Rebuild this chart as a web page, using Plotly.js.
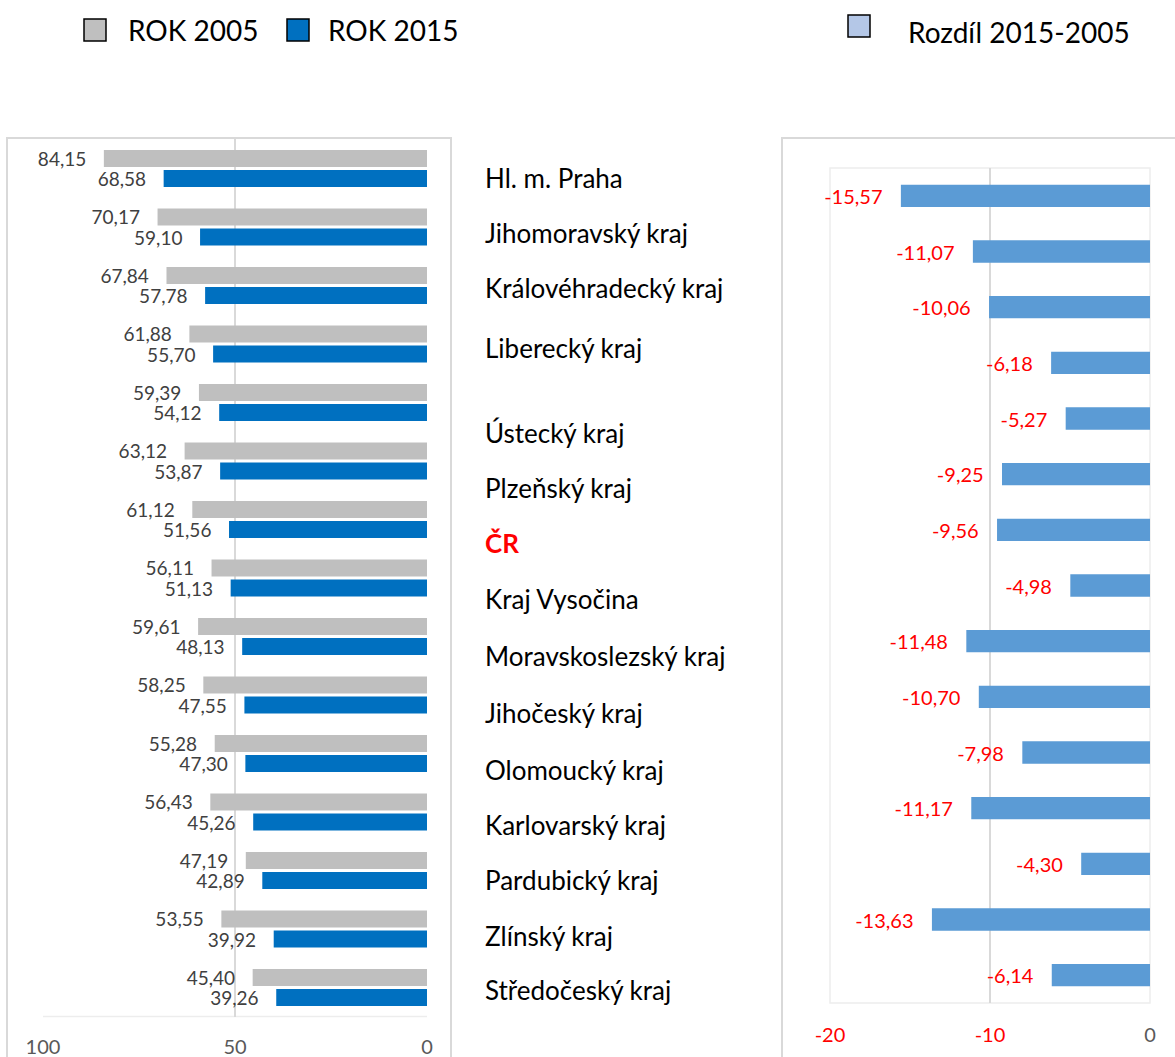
<!DOCTYPE html>
<html>
<head>
<meta charset="utf-8">
<script src="https://cdn.plot.ly/plotly-3.0.1.min.js"></script>
<style>html,body{margin:0;padding:0;background:#fff;}#chart{width:1175px;height:1057px;}</style>
</head>
<body>
<div id="chart"></div>
<script>
const categories = ["Hl. m. Praha","Jihomoravský kraj","Královéhradecký kraj","Liberecký kraj","Ústecký kraj","Plzeňský kraj","ČR","Kraj Vysočina","Moravskoslezský kraj","Jihočeský kraj","Olomoucký kraj","Karlovarský kraj","Pardubický kraj","Zlínský kraj","Středočeský kraj"];
const v2005 = [84.15,70.17,67.84,61.88,59.39,63.12,61.12,56.11,59.61,58.25,55.28,56.43,47.19,53.55,45.40];
const v2015 = [68.58,59.10,57.78,55.70,54.12,53.87,51.56,51.13,48.13,47.55,47.30,45.26,42.89,39.92,39.26];
const diff = [-15.57,-11.07,-10.06,-6.18,-5.27,-9.25,-9.56,-4.98,-11.48,-10.70,-7.98,-11.17,-4.30,-13.63,-6.14];
const legendNames = ["ROK 2005","ROK 2015","Rozdíl 2015-2005"];
const leftTicks = [100,50,0];
const rightTicks = [-20,-10,0];

const W = 1175, H = 1057;
const X = p => p / W;
const Y = p => 1 - p / H;
const PAD = "\u00a0\u00a0\u00a0";
const fmt = v => v.toFixed(2).replace('.', ',') + PAD;
const FONT = "Lato, 'Open Sans', sans-serif";

const traces = [
  {type:'bar', orientation:'h', name:legendNames[0], y:categories, x:v2005, xaxis:'x', yaxis:'y',
   marker:{color:'#bfbfbf'}, width:0.29, offset:-0.316,
   text:v2005.map(fmt), textposition:'outside', constraintext:'none', cliponaxis:false,
   textfont:{family:FONT, size:19, color:'#404040'}, hoverinfo:'x+y'},
  {type:'bar', orientation:'h', name:legendNames[1], y:categories, x:v2015, xaxis:'x', yaxis:'y',
   marker:{color:'#0070c0'}, width:0.29, offset:0.026,
   text:v2015.map(fmt), textposition:'outside', constraintext:'none', cliponaxis:false,
   textfont:{family:FONT, size:19, color:'#404040'}, hoverinfo:'x+y'},
  {type:'bar', orientation:'h', name:legendNames[2], y:categories, x:diff, xaxis:'x2', yaxis:'y2',
   marker:{color:'#5b9bd5'}, width:0.4, offset:-0.2,
   text:diff.map(fmt), textposition:'outside', constraintext:'none', cliponaxis:false,
   textfont:{family:FONT, size:20, color:'#ff0000'}, hoverinfo:'x+y'}
];

const shapes = [
  {type:'rect', xref:'paper', yref:'paper', x0:X(7), x1:X(451), y0:Y(1075), y1:Y(138), line:{color:'#d9d9d9', width:2}, layer:'below'},
  {type:'rect', xref:'paper', yref:'paper', x0:X(782), x1:X(1190), y0:Y(1075), y1:Y(138), line:{color:'#d9d9d9', width:2}, layer:'below'},
  {type:'rect', xref:'paper', yref:'paper', x0:X(830), x1:X(1150), y0:Y(1003), y1:Y(168), line:{color:'#ededed', width:1.5}, layer:'below'},
  {type:'line', xref:'paper', yref:'paper', x0:X(43), x1:X(427), y0:Y(1016.5), y1:Y(1016.5), line:{color:'#ededed', width:1.5}, layer:'below'},
  // legend squares
  {type:'rect', xref:'paper', yref:'paper', x0:X(84), x1:X(106), y0:Y(41), y1:Y(19), fillcolor:'#bfbfbf', line:{color:'#000', width:1.5}},
  {type:'rect', xref:'paper', yref:'paper', x0:X(287), x1:X(309), y0:Y(41), y1:Y(19), fillcolor:'#0070c0', line:{color:'#000', width:1.5}},
  {type:'rect', xref:'paper', yref:'paper', x0:X(848), x1:X(870), y0:Y(37), y1:Y(15), fillcolor:'#b4c7e7', line:{color:'#000', width:1.5}}
];

const labelShift = [18,19,19,15,-14,-14,-13,-13,-15,-16,-17,-17,-16,-16,-15];
const annotations = categories.map((c, i) => ({
  xref:'paper', yref:'y2', x:X(483), y:c, yshift:labelShift[i], xanchor:'left', yanchor:'middle', showarrow:false,
  text: c === 'ČR' ? '<b>' + c + '</b>' : c,
  font:{family:FONT, size:26, color: c === 'ČR' ? '#ff0000' : '#000000'}
}));
annotations.push(
  {xref:'paper', yref:'paper', x:X(126), y:Y(30), xanchor:'left', yanchor:'middle', showarrow:false, text:legendNames[0], font:{family:FONT, size:28, color:'#000'}},
  {xref:'paper', yref:'paper', x:X(326), y:Y(30), xanchor:'left', yanchor:'middle', showarrow:false, text:legendNames[1], font:{family:FONT, size:28, color:'#000'}},
  {xref:'paper', yref:'paper', x:X(906), y:Y(32), xanchor:'left', yanchor:'middle', showarrow:false, text:legendNames[2], font:{family:FONT, size:28, color:'#000'}}
);

const layout = {
  width:W, height:H, margin:{l:0, r:0, t:0, b:0},
  paper_bgcolor:'#fff', plot_bgcolor:'rgba(0,0,0,0)',
  showlegend:false, barmode:'overlay',
  font:{family:FONT, color:'#595959'},
  xaxis:{domain:[X(43), X(427)], range:[100,0], tickvals:leftTicks, ticktext:leftTicks.map(String),
    showgrid:true, gridcolor:'#d9d9d9', gridwidth:1.5, zeroline:false, showline:false, ticks:'',
    tickfont:{family:FONT, size:20, color:'#595959'}, ticklabelstandoff:16, anchor:'y', fixedrange:true},
  yaxis:{domain:[Y(1016.75), Y(139.25)], type:'category', categoryorder:'array', categoryarray:categories,
    range:[categories.length-0.5, -0.5], showticklabels:false, showgrid:false, zeroline:false, ticks:'', anchor:'x', fixedrange:true},
  xaxis2:{domain:[X(830), X(1150)], range:[-20,0], tickvals:rightTicks,
    ticktext:rightTicks.map(v => v < 0 ? '<span style="color:#ff0000">' + v + '</span>' : String(v)),
    showgrid:true, gridcolor:'#d9d9d9', gridwidth:1.5, zeroline:false, showline:false, ticks:'',
    tickfont:{family:FONT, size:20, color:'#595959'}, ticklabelstandoff:18, anchor:'y2', fixedrange:true},
  yaxis2:{domain:[Y(1003), Y(168)], type:'category', categoryorder:'array', categoryarray:categories,
    range:[categories.length-0.5, -0.5], showticklabels:false, showgrid:false, zeroline:false, ticks:'', anchor:'x2', fixedrange:true},
  shapes:shapes, annotations:annotations
};

Plotly.newPlot('chart', traces, layout, {displayModeBar:false, staticPlot:true});
</script>
</body>
</html>
